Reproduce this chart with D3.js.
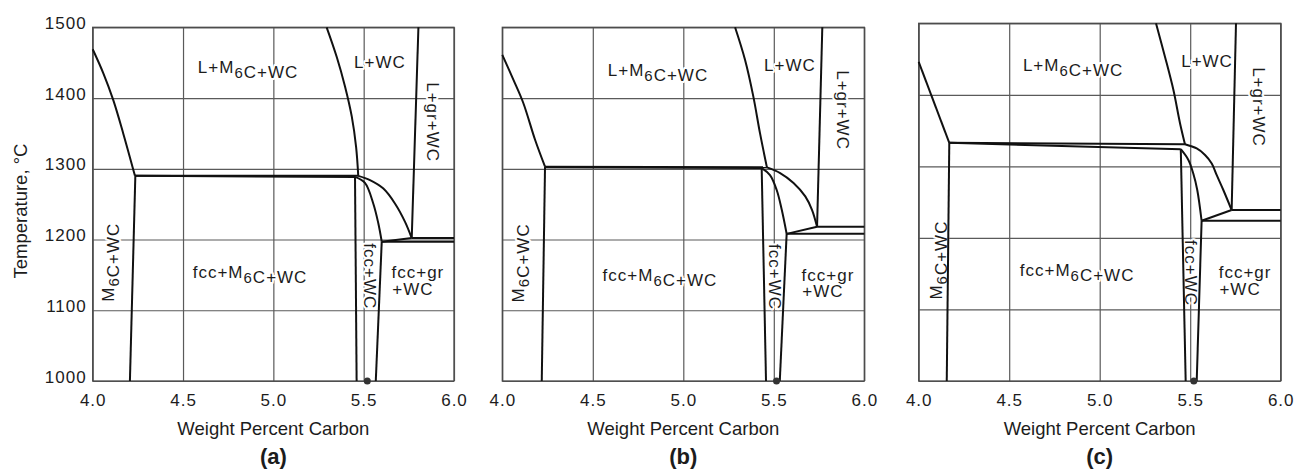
<!DOCTYPE html>
<html>
<head>
<meta charset="utf-8">
<script src="https://cdn.jsdelivr.net/npm/d3@7"></script>
<style>
	body { margin: 0; background: #fff; }
	svg text { font-family: 'Liberation Sans', Arial, sans-serif; fill: #1c1c1c; }
</style>
</head>
<body>
<svg id="chart" width="1297" height="470"></svg>
<script>
// values, one entry per panel (a), (b), (c)
const panelNames = ['(a)', '(b)', '(c)'];
const carbonTicks = [4.0, 4.5, 5.0, 5.5, 6.0];
const tempTicks = [1000, 1100, 1200, 1300, 1400, 1500];

const leftLiquidus = [
	[[4.0, 1469], [4.059, 1435], [4.114, 1397], [4.169, 1350], [4.234, 1290]],
	[[4.0, 1461], [4.061, 1426], [4.116, 1393], [4.181, 1341], [4.236, 1303]],
	[[4.0, 1446], [4.169, 1333]]
];
const leftSolvus = [
	[[4.236, 1290], [4.206, 1000]],
	[[4.236, 1303], [4.218, 1000]],
	[[4.169, 1333], [4.155, 1000]]
];
const eutecticUpper = [
	[[4.234, 1290], [5.470, 1290]],
	[[4.236, 1303], [5.462, 1302]],
	[[4.169, 1333], [5.471, 1331]]
];
const eutecticLower = [
	[[4.234, 1290], [5.452, 1288.5]],
	[[4.236, 1302], [5.433, 1301]],
	[[4.169, 1333], [5.448, 1324]]
];
const rightLiquidus = [
	[[5.295, 1500], [5.351, 1458], [5.397, 1416], [5.434, 1374], [5.458, 1331], [5.470, 1290]],
	[[5.286, 1500], [5.341, 1454], [5.387, 1402], [5.424, 1350], [5.462, 1302]],
	[[5.311, 1500], [5.361, 1453], [5.407, 1407], [5.444, 1360], [5.471, 1331]]
];
const fccLeftEdge = [
	[[5.452, 1288.5], [5.461, 1000]],
	[[5.433, 1301], [5.457, 1000]],
	[[5.448, 1324], [5.475, 1000]]
];
const fccRightCurve = [
	[[5.452, 1288.5], [5.507, 1280], [5.553, 1251], [5.581, 1223], [5.600, 1197]],
	[[5.433, 1301], [5.479, 1291], [5.516, 1270], [5.544, 1242], [5.571, 1208]],
	[[5.448, 1324], [5.490, 1309], [5.517, 1290], [5.539, 1267], [5.563, 1224]]
];
const fccRightEdge = [
	[[5.600, 1197], [5.567, 1000]],
	[[5.571, 1208], [5.533, 1000]],
	[[5.563, 1224], [5.536, 1000]]
];
const wcLiquidus = [
	[[5.470, 1290], [5.535, 1284], [5.609, 1272], [5.673, 1251], [5.729, 1225], [5.766, 1202]],
	[[5.462, 1302], [5.535, 1294], [5.609, 1280], [5.674, 1261], [5.711, 1242], [5.739, 1218]],
	[[5.471, 1331], [5.536, 1325], [5.582, 1316], [5.619, 1304], [5.646, 1288], [5.683, 1267], [5.729, 1239]]
];
const graphiteLiquidus = [
	[[5.766, 1202], [5.803, 1500]],
	[[5.739, 1218], [5.768, 1500]],
	[[5.729, 1239], [5.753, 1500]]
];
const tieLine = [
	[[5.600, 1197], [5.766, 1202]],
	[[5.571, 1208], [5.739, 1218]],
	[[5.563, 1224], [5.729, 1239]]
];
const upperIsotherm = [
	[[5.766, 1202], [6.0, 1202]],
	[[5.739, 1218], [6.0, 1218]],
	[[5.729, 1239], [6.0, 1239]]
];
const lowerIsotherm = [
	[[5.600, 1197], [6.0, 1197]],
	[[5.571, 1208], [6.0, 1208]],
	[[5.563, 1224], [6.0, 1224]]
];
const markerCarbon = [5.52, 5.515, 5.52];

// phase field names ("_6" = subscript 6, "|" = second line), rotation and anchor [wt% C, degC] per panel
const phaseLabels = ['L+M_6C+WC', 'L+WC', 'L+gr+WC', 'M_6C+WC', 'fcc+M_6C+WC', 'fcc+WC', 'fcc+gr|+WC'];
const labelRotation = [0, 0, 90, -90, 0, 90, 0];
const labelAnchors = [
	[[4.86, 1444], [5.59, 1451], [5.884, 1366], [4.085, 1168], [4.871, 1154], [5.535, 1148], [5.80, 1154]],
	[[4.86, 1440], [5.589, 1447], [5.882, 1383], [4.087, 1167], [4.871, 1150], [5.506, 1147], [5.799, 1150]],
	[[4.853, 1442], [5.593, 1447], [5.880, 1383], [4.096, 1169], [4.875, 1155], [5.504, 1151], [5.803, 1152]]
];

const boundaries = [leftLiquidus, leftSolvus, eutecticUpper, eutecticLower, rightLiquidus, fccLeftEdge,
	fccRightCurve, fccRightEdge, wcLiquidus, graphiteLiquidus, tieLine, upperIsotherm, lowerIsotherm];

const panels = [
	{ left: 92.7, right: 454, top: 27.3 },
	{ left: 502.3, right: 864.3, top: 27.3 },
	{ left: 918.7, right: 1280.7, top: 23.3 }
];
const bottom = 381;

const svg = d3.select('#chart');

const addLabel = (g, str, px, py, rot, size) => {
	const t = g.append('text')
		.attr('transform', 'translate(' + px + ',' + py + ') rotate(' + rot + ')')
		.attr('text-anchor', 'middle')
		.attr('dominant-baseline', 'central')
		.style('font-size', size + 'px')
		.style('letter-spacing', '1px')
		.style('stroke', '#fff')
		.style('stroke-width', 4)
		.style('paint-order', 'stroke')
		.style('stroke-linejoin', 'round');
	str.split('|').forEach((row, r) => {
		const first = t.append('tspan');
		if (r > 0) first.attr('x', -5).attr('dy', 16.5);
		let started = false;
		row.split(/(_6)/).forEach((part) => {
			if (!part) return;
			const s = started ? t.append('tspan') : first;
			started = true;
			if (part === '_6') {
				s.attr('dy', 5).style('font-size', (size - 2) + 'px').text('6');
				t.append('tspan').attr('dy', -5).text('');
			} else {
				s.text(part);
			}
		});
	});
};

panels.forEach((p, i) => {
	const x = d3.scaleLinear().domain([4, 6]).range([p.left, p.right]);
	const y = d3.scaleLinear().domain([1000, 1500]).range([bottom, p.top]);
	const g = svg.append('g');

	// grid through the axes
	const yAxis = g.append('g')
		.attr('transform', 'translate(' + p.left + ',0)')
		.call(d3.axisLeft(y).tickValues(tempTicks).tickSize(-(p.right - p.left)).tickPadding(6)
			.tickFormat(i === 0 ? d3.format('d') : ''));
	const xAxis = g.append('g')
		.attr('transform', 'translate(0,' + bottom + ')')
		.call(d3.axisBottom(x).tickValues(carbonTicks).tickSize(-(bottom - p.top)).tickPadding(13)
			.tickFormat(d3.format('.1f')));
	[xAxis, yAxis].forEach((a) => {
		a.select('.domain').remove();
		a.selectAll('line').attr('stroke', '#5a5a5a').attr('stroke-width', 1.2);
		a.selectAll('text').style('font-size', '17px').style('letter-spacing', '1px').attr('fill', '#1c1c1c');
	});
	yAxis.selectAll('text').attr('dy', '0.06em');

	g.append('rect')
		.attr('x', p.left).attr('y', p.top)
		.attr('width', p.right - p.left).attr('height', bottom - p.top)
		.attr('fill', 'none').attr('stroke', '#4a4a4a').attr('stroke-width', 1.3);

	// phase labels
	phaseLabels.forEach((lbl, k) => {
		const a = labelAnchors[i][k];
		addLabel(g, lbl, x(a[0]), y(a[1]), labelRotation[k], 17);
	});

	// phase boundaries
	const line = d3.line().x((d) => x(d[0])).y((d) => y(d[1])).curve(d3.curveCatmullRom.alpha(0.5));
	boundaries.forEach((b) => {
		g.append('path')
			.attr('d', line(b[i]))
			.attr('fill', 'none')
			.attr('stroke', '#111')
			.attr('stroke-width', 2)
			.attr('stroke-linejoin', 'round');
	});

	g.append('circle')
		.attr('cx', x(markerCarbon[i])).attr('cy', y(1000)).attr('r', 3.5)
		.attr('fill', '#333');

	const cx = (p.left + p.right) / 2;
	g.append('text')
		.attr('x', cx).attr('y', 434.5)
		.attr('text-anchor', 'middle')
		.style('font-size', '18.5px')
		.text('Weight Percent Carbon');
	g.append('text')
		.attr('x', cx).attr('y', 464)
		.attr('text-anchor', 'middle')
		.style('font-size', '22px')
		.style('font-weight', 'bold')
		.text(panelNames[i]);
});

svg.append('text')
	.attr('transform', 'translate(27,211) rotate(-90)')
	.attr('text-anchor', 'middle')
	.style('font-size', '18.5px')
	.text('Temperature, \u00B0C');
</script>
</body>
</html>
